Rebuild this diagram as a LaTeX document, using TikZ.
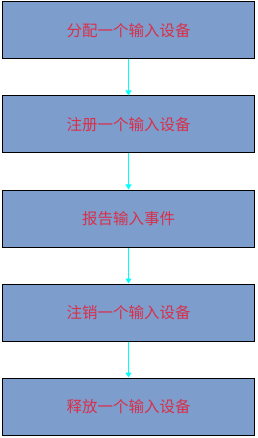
\documentclass[tikz,border=0pt]{standalone}
\usepackage{fontspec}
\newfontfamily\cjk{Noto Sans CJK SC}
\usetikzlibrary{arrows.meta}
\definecolor{boxfill}{HTML}{7D9DCD}
\definecolor{txtred}{HTML}{D8304A}
\definecolor{arrcyan}{HTML}{00FFFF}
\begin{document}
\begin{tikzpicture}[x=1pt,y=-1pt,
  stagebox/.style={draw=black, line width=1pt, fill=boxfill, minimum width=252pt, minimum height=57pt, inner sep=0pt,
    font=\cjk\fontsize{15.5}{17}\selectfont, text=txtred},
  link/.style={draw=arrcyan, line width=1pt, -{Triangle[length=5pt,width=6pt]}}]
\useasboundingbox (0,0) rectangle (257,438);
\node[stagebox] (a) at (128.5,30.5) {分配一个输入设备};
\node[stagebox] (b) at (128.5,124.5) {注册一个输入设备};
\node[stagebox] (c) at (128.5,218.5) {报告输入事件};
\node[stagebox] (d) at (128.5,312.5) {注销一个输入设备};
\node[stagebox] (e) at (128.5,406.5) {释放一个输入设备};
\draw[link] (a) -- (b);
\draw[link] (b) -- (c);
\draw[link] (c) -- (d);
\draw[link] (d) -- (e);
\end{tikzpicture}
\end{document}
